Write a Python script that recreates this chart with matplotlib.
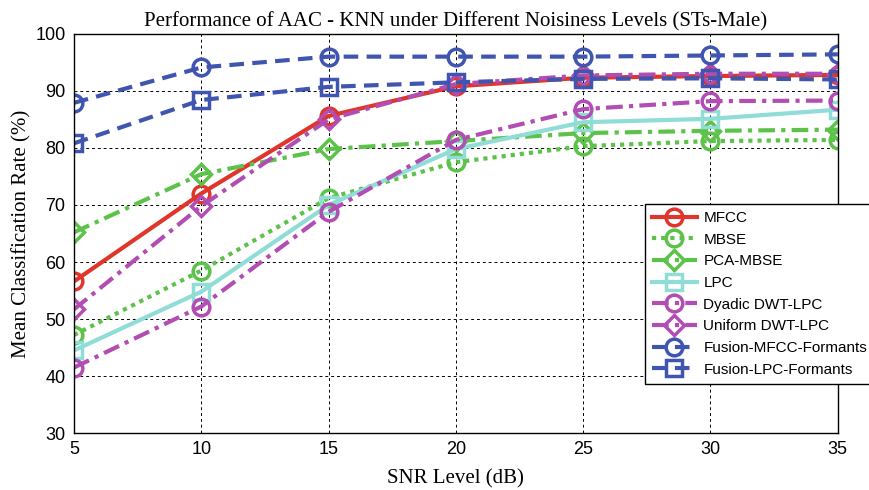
import matplotlib
matplotlib.use("Agg")
import matplotlib.pyplot as plt

snr = [5, 10, 15, 20, 25, 30, 35]

mfcc = [56.6, 72.0, 85.6, 90.8, 92.3, 92.6, 92.8]
mbse = [47.2, 58.5, 71.2, 77.5, 80.3, 81.2, 81.4]
pca_mbse = [65.2, 75.4, 79.8, 81.2, 82.6, 83.0, 83.2]
lpc = [44.5, 54.8, 70.0, 79.8, 84.5, 85.1, 86.7]
dyadic = [41.5, 52.2, 68.8, 81.4, 86.8, 88.2, 88.3]
uniform = [51.7, 69.8, 85.0, 91.2, 92.7, 93.0, 93.0]
fusion_mfcc = [87.9, 94.1, 96.0, 96.0, 96.0, 96.2, 96.4]
fusion_lpc = [80.8, 88.4, 90.7, 91.5, 92.1, 92.2, 92.0]

red = "#e0352a"
green = "#5cc24a"
cyan = "#8fddd6"
magenta = "#b14db3"
blue = "#3f55b0"

plt.rcParams["font.family"] = "Liberation Sans"

fig = plt.figure(figsize=(8.7, 4.9), dpi=100)
ax = fig.add_axes([0.085, 0.116, 0.878, 0.815])

lw = 3.0
ms = 12
mew = 2.5

series = [
    ("MFCC", mfcc, red, "-", "o"),
    ("MBSE", mbse, green, (0, (1, 1.2)), "o"),
    ("PCA-MBSE", pca_mbse, green, (0, (4, 1.5, 1, 1.5)), "D"),
    ("LPC", lpc, cyan, "-", "s"),
    ("Dyadic DWT-LPC", dyadic, magenta, (0, (4, 1.5, 1, 1.5)), "o"),
    ("Uniform DWT-LPC", uniform, magenta, (0, (4, 1.5, 1, 1.5)), "D"),
    ("Fusion-MFCC-Formants", fusion_mfcc, blue, (0, (3.5, 2)), "o"),
    ("Fusion-LPC-Formants", fusion_lpc, blue, (0, (3.5, 2)), "s"),
]

for name, vals, col, ls, mk in series:
    msize = ms - 2 if mk == "D" else ms
    ax.plot(snr, vals, color=col, linestyle=ls, linewidth=lw, marker=mk,
            markersize=msize, markerfacecolor="none", markeredgecolor=col,
            markeredgewidth=mew, label=name)

ax.set_xlim(5, 35)
ax.set_ylim(30, 100)
ax.set_xticks(snr)
ax.set_yticks(range(30, 101, 10))
ax.tick_params(labelsize=13, length=0, pad=6)
ax.grid(True, color="black", linestyle=(0, (3, 3)), linewidth=0.7)
for s in ax.spines.values():
    s.set_linewidth(1.0)

ax.set_title("Performance of AAC - KNN under Different Noisiness Levels (STs-Male)",
             fontfamily="Liberation Serif", fontsize=15, pad=5)
ax.set_xlabel("SNR Level (dB)", fontfamily="Liberation Serif", fontsize=15, labelpad=8)
ax.set_ylabel("Mean Classification Rate (%)", fontfamily="Liberation Serif", fontsize=15,
              labelpad=3)

leg = fig.legend(loc="upper left", bbox_to_anchor=(0.741, 0.583), fontsize=11,
                 frameon=True, fancybox=False, edgecolor="black", framealpha=1,
                 handlelength=3.0, borderpad=0.45, labelspacing=0.5,
                 handletextpad=0.4, borderaxespad=0)
leg.get_frame().set_linewidth(1.0)

fig.savefig("out.png", dpi=100)
